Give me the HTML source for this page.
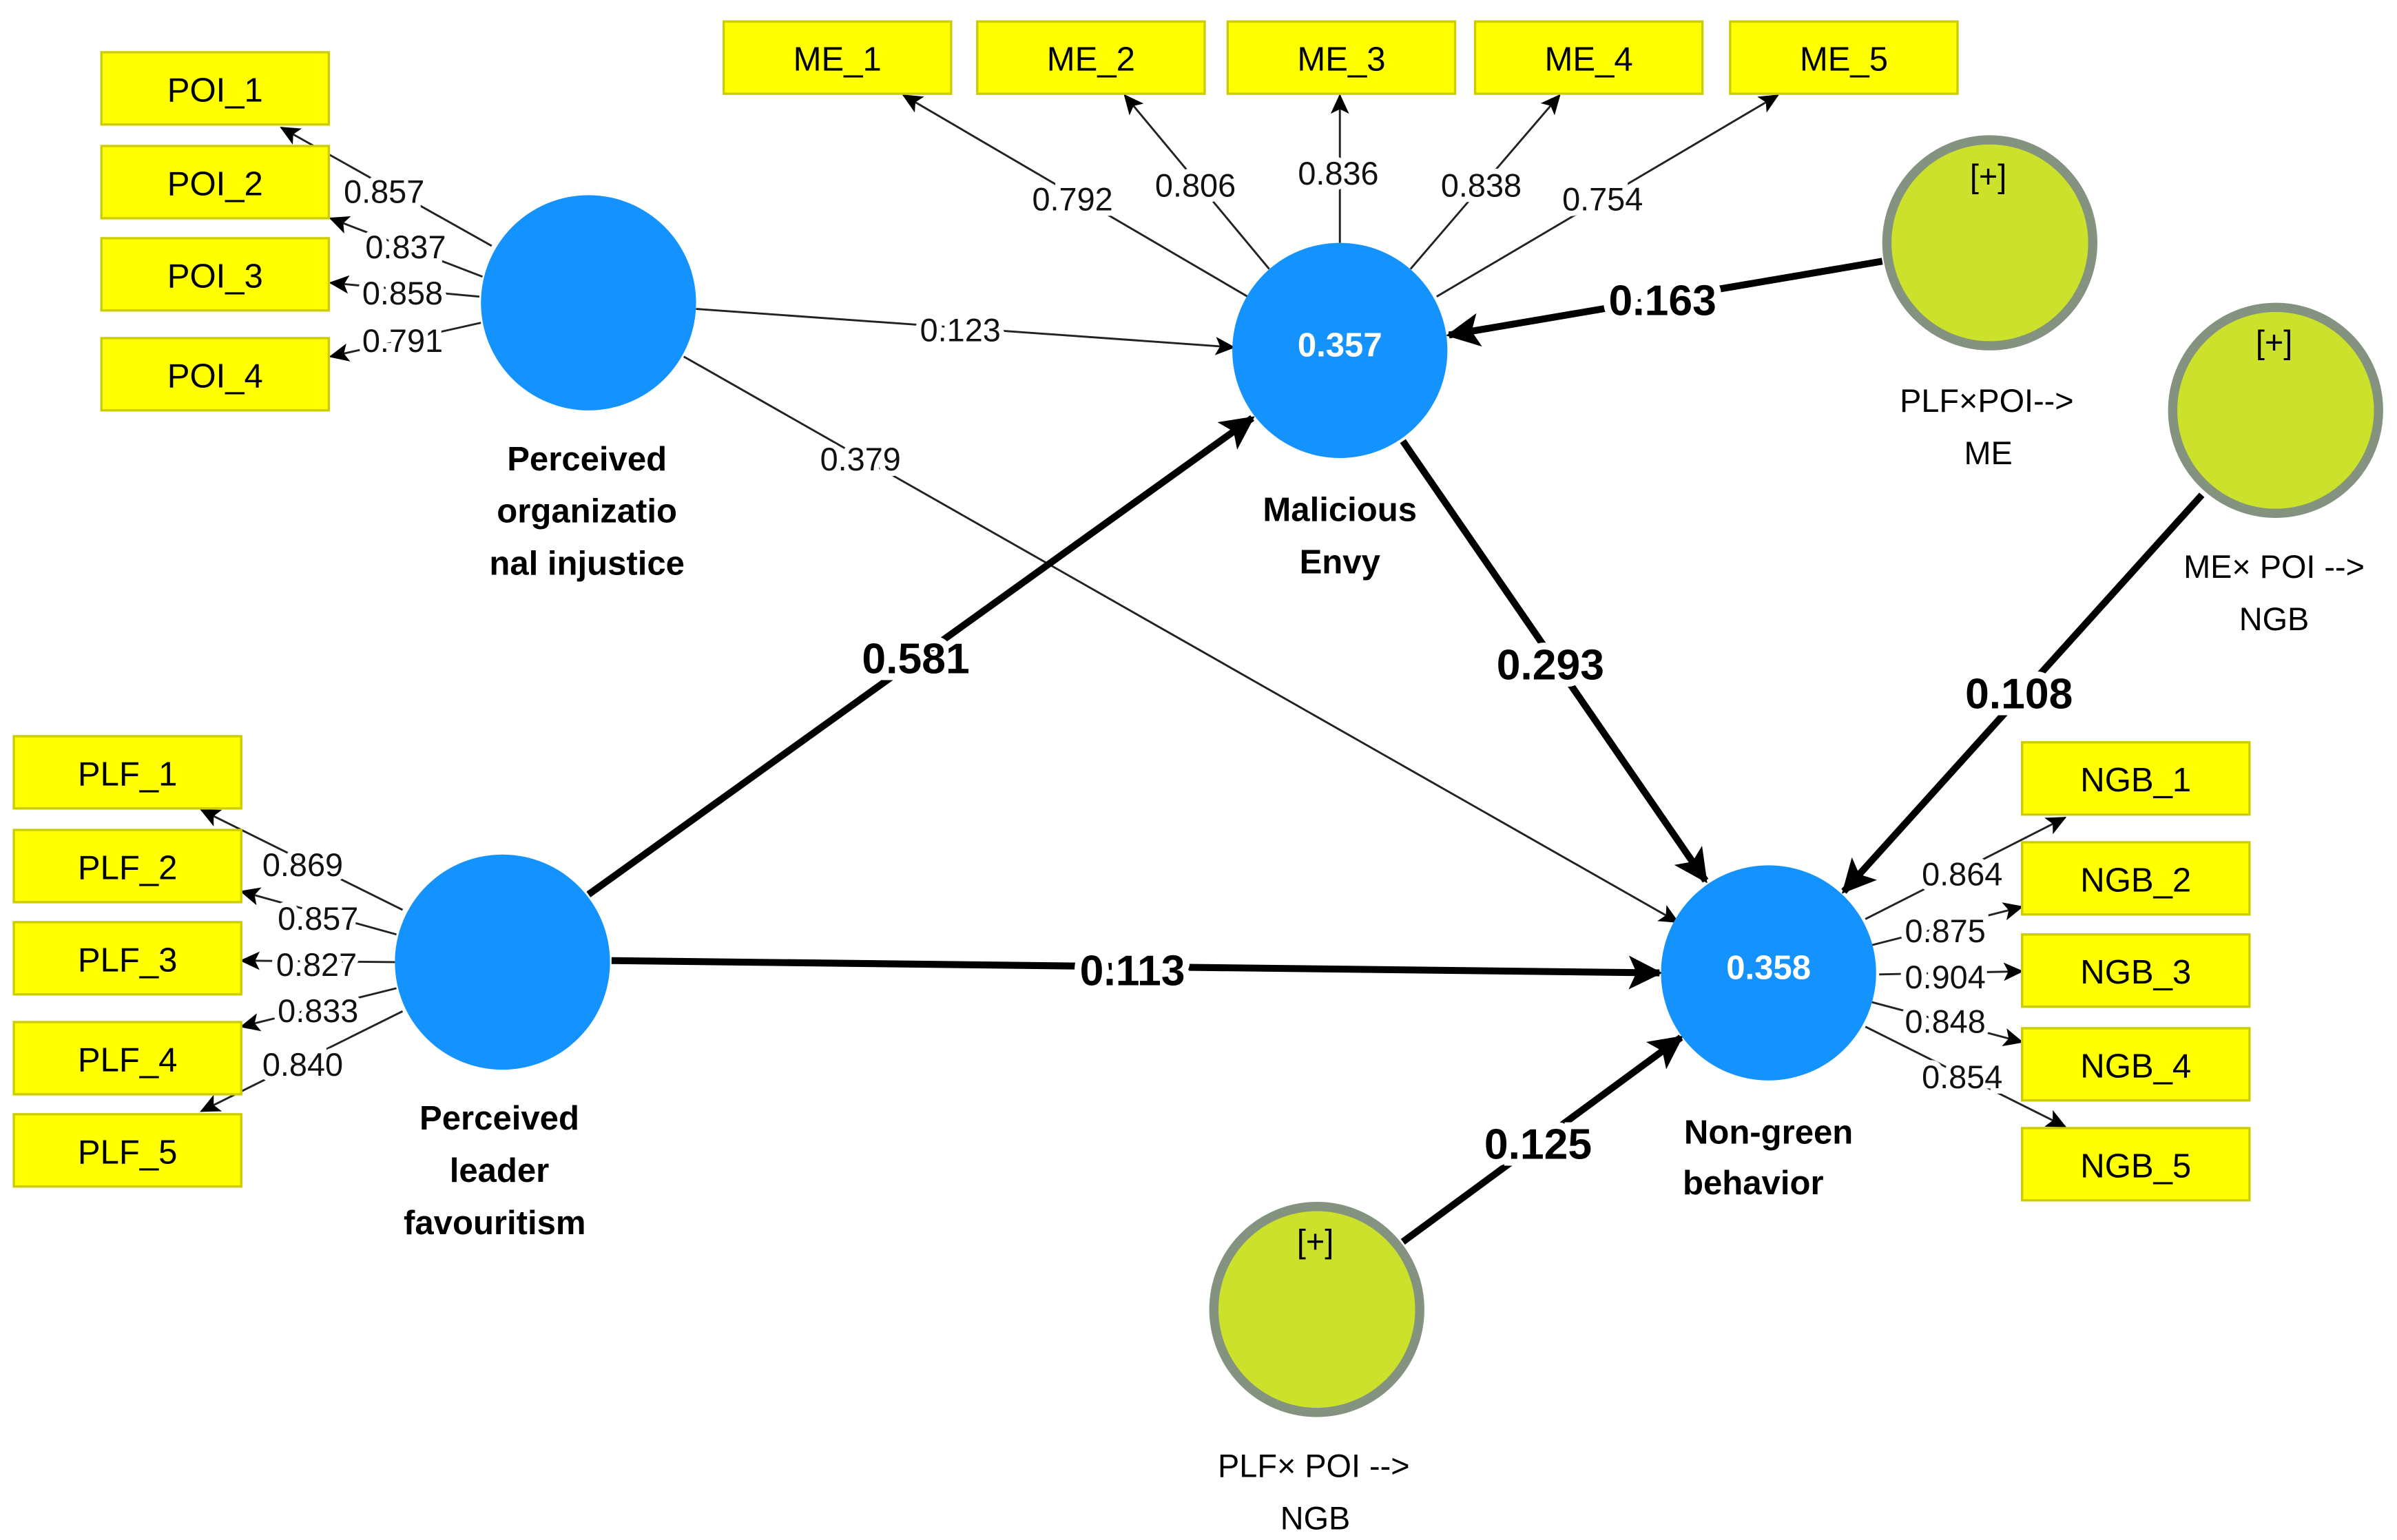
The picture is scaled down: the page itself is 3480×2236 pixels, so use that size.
<!DOCTYPE html>
<html><head><meta charset="utf-8"><style>
html,body{margin:0;padding:0;background:#fff;}
svg{display:block;}
text{font-family:"Liberation Sans",sans-serif;}
.box{fill:#ffff00;stroke:#cccc00;stroke-width:1.5;}
.bl{font-size:22px;fill:#000;text-anchor:middle;}
.ld{font-size:21px;fill:#111;text-anchor:middle;paint-order:stroke;stroke:#fff;stroke-width:7px;}
.pc{font-size:28px;font-weight:bold;fill:#000;text-anchor:middle;paint-order:stroke;stroke:#fff;stroke-width:9px;}
.nl{font-size:22px;font-weight:bold;fill:#000;text-anchor:middle;}
.ml{font-size:21px;fill:#000;text-anchor:middle;}
.thin{stroke:#222;stroke-width:1.3;fill:none;marker-end:url(#a1);}
.bold{stroke:#000;stroke-width:4.5;fill:none;marker-end:url(#a2);}
.g{fill:#cbe12b;stroke:#849280;stroke-width:6;}
.b{fill:#1493ff;}
</style></head><body>
<svg width="3480" height="2236" viewBox="0 0 1560 1002" preserveAspectRatio="none" xmlns="http://www.w3.org/2000/svg">
<defs>
<marker id="a1" markerWidth="14" markerHeight="12" refX="12" refY="6" orient="auto" markerUnits="userSpaceOnUse"><path d="M0,0 L13,6 L0,12 L3,6z" fill="#000"/></marker>
<marker id="a2" markerWidth="24" markerHeight="22" refX="20" refY="11" orient="auto" markerUnits="userSpaceOnUse"><path d="M0,0 L22,11 L0,22 L5,11z" fill="#000"/></marker>
</defs>
<rect width="1560" height="1002" fill="#fff"/>

<!-- thin lines -->
<line class="thin" x1="320" y1="160" x2="183" y2="83"/>
<line class="thin" x1="314" y1="180" x2="215" y2="142"/>
<line class="thin" x1="312" y1="193" x2="215" y2="184"/>
<line class="thin" x1="313" y1="210" x2="215" y2="232"/>
<line class="thin" x1="812" y1="193" x2="588" y2="62"/>
<line class="thin" x1="826" y1="175" x2="732" y2="62"/>
<line class="thin" x1="872" y1="158" x2="872" y2="62"/>
<line class="thin" x1="918" y1="175" x2="1015" y2="62"/>
<line class="thin" x1="935" y1="193" x2="1157" y2="62"/>
<line class="thin" x1="262" y1="592" x2="131" y2="527"/>
<line class="thin" x1="258" y1="608" x2="157" y2="580"/>
<line class="thin" x1="257" y1="626" x2="157" y2="625"/>
<line class="thin" x1="258" y1="643" x2="157" y2="668"/>
<line class="thin" x1="262" y1="658" x2="131" y2="723"/>
<line class="thin" x1="1214" y1="598" x2="1344" y2="532"/>
<line class="thin" x1="1218" y1="615" x2="1316" y2="590"/>
<line class="thin" x1="1223" y1="634" x2="1316" y2="632"/>
<line class="thin" x1="1218" y1="652" x2="1316" y2="678"/>
<line class="thin" x1="1214" y1="668" x2="1344" y2="733"/>
<line class="thin" x1="453" y1="201" x2="803" y2="226"/>
<line class="thin" x1="445" y1="232" x2="1092" y2="600"/>

<!-- bold lines -->
<line class="bold" x1="383" y1="582" x2="815" y2="272"/>
<line class="bold" x1="913" y1="287" x2="1110" y2="573"/>
<line class="bold" x1="398" y1="625" x2="1080" y2="633"/>
<line class="bold" x1="1225" y1="170" x2="943" y2="218"/>
<line class="bold" x1="1433" y1="322" x2="1200" y2="580"/>
<line class="bold" x1="913" y1="808" x2="1094" y2="675"/>

<!-- boxes -->
<rect class="box" x="66" y="34" width="148" height="47"/><text class="bl" x="140" y="66">POI_1</text>
<rect class="box" x="66" y="95" width="148" height="47"/><text class="bl" x="140" y="127">POI_2</text>
<rect class="box" x="66" y="155" width="148" height="47"/><text class="bl" x="140" y="187">POI_3</text>
<rect class="box" x="66" y="220" width="148" height="47"/><text class="bl" x="140" y="252">POI_4</text>
<rect class="box" x="471" y="14" width="148" height="47"/><text class="bl" x="545" y="46">ME_1</text>
<rect class="box" x="636" y="14" width="148" height="47"/><text class="bl" x="710" y="46">ME_2</text>
<rect class="box" x="799" y="14" width="148" height="47"/><text class="bl" x="873" y="46">ME_3</text>
<rect class="box" x="960" y="14" width="148" height="47"/><text class="bl" x="1034" y="46">ME_4</text>
<rect class="box" x="1126" y="14" width="148" height="47"/><text class="bl" x="1200" y="46">ME_5</text>
<rect class="box" x="9" y="479" width="148" height="47"/><text class="bl" x="83" y="511">PLF_1</text>
<rect class="box" x="9" y="540" width="148" height="47"/><text class="bl" x="83" y="572">PLF_2</text>
<rect class="box" x="9" y="600" width="148" height="47"/><text class="bl" x="83" y="632">PLF_3</text>
<rect class="box" x="9" y="665" width="148" height="47"/><text class="bl" x="83" y="697">PLF_4</text>
<rect class="box" x="9" y="725" width="148" height="47"/><text class="bl" x="83" y="757">PLF_5</text>
<rect class="box" x="1316" y="483" width="148" height="47"/><text class="bl" x="1390" y="515">NGB_1</text>
<rect class="box" x="1316" y="548" width="148" height="47"/><text class="bl" x="1390" y="580">NGB_2</text>
<rect class="box" x="1316" y="608" width="148" height="47"/><text class="bl" x="1390" y="640">NGB_3</text>
<rect class="box" x="1316" y="669" width="148" height="47"/><text class="bl" x="1390" y="701">NGB_4</text>
<rect class="box" x="1316" y="734" width="148" height="47"/><text class="bl" x="1390" y="766">NGB_5</text>

<!-- loading labels -->
<text class="ld" x="250" y="132">0.857</text>
<text class="ld" x="264" y="168">0.837</text>
<text class="ld" x="262" y="198">0.858</text>
<text class="ld" x="262" y="229">0.791</text>
<text class="ld" x="698" y="137">0.792</text>
<text class="ld" x="778" y="128">0.806</text>
<text class="ld" x="871" y="120">0.836</text>
<text class="ld" x="964" y="128">0.838</text>
<text class="ld" x="1043" y="137">0.754</text>
<text class="ld" x="197" y="570">0.869</text>
<text class="ld" x="207" y="605">0.857</text>
<text class="ld" x="206" y="635">0.827</text>
<text class="ld" x="207" y="665">0.833</text>
<text class="ld" x="197" y="700">0.840</text>
<text class="ld" x="1277" y="576">0.864</text>
<text class="ld" x="1266" y="613">0.875</text>
<text class="ld" x="1266" y="643">0.904</text>
<text class="ld" x="1266" y="672">0.848</text>
<text class="ld" x="1277" y="708">0.854</text>
<text class="ld" x="625" y="222">0.123</text>
<text class="ld" x="560" y="306">0.379</text>

<!-- path coefficients -->
<text class="pc" x="596" y="438">0.581</text>
<text class="pc" x="1009" y="442">0.293</text>
<text class="pc" x="737" y="641">0.113</text>
<text class="pc" x="1082" y="205">0.163</text>
<text class="pc" x="1314" y="461">0.108</text>
<text class="pc" x="1001" y="754">0.125</text>

<!-- latent circles -->
<circle class="b" cx="383" cy="197" r="70"/>
<circle class="b" cx="872" cy="228" r="70"/>
<text x="872" y="232" font-size="22" font-weight="bold" fill="#fff" text-anchor="middle">0.357</text>
<circle class="b" cx="327" cy="626" r="70"/>
<circle class="b" cx="1151" cy="633" r="70"/>
<text x="1151" y="637" font-size="22" font-weight="bold" fill="#fff" text-anchor="middle">0.358</text>

<circle class="g" cx="1295" cy="158" r="67"/>
<text class="ml" x="1294" y="122">[+]</text>
<circle class="g" cx="1481" cy="267" r="67"/>
<text class="ml" x="1480" y="230">[+]</text>
<circle class="g" cx="857" cy="852" r="67"/>
<text class="ml" x="856" y="815">[+]</text>

<!-- node labels -->
<text class="nl" x="382" y="306">Perceived</text>
<text class="nl" x="382" y="340">organizatio</text>
<text class="nl" x="382" y="374">nal injustice</text>
<text class="nl" x="872" y="339">Malicious</text>
<text class="nl" x="872" y="373">Envy</text>
<text class="nl" x="325" y="735">Perceived</text>
<text class="nl" x="325" y="769">leader</text>
<text class="nl" x="322" y="803">favouritism</text>
<text class="nl" x="1151" y="744">Non-green</text>
<text class="nl" x="1141" y="777">behavior</text>
<text class="ml" x="1293" y="268">PLF×POI--&gt;</text>
<text class="ml" x="1294" y="302">ME</text>
<text class="ml" x="1480" y="376">ME× POI --&gt;</text>
<text class="ml" x="1480" y="410">NGB</text>
<text class="ml" x="855" y="961">PLF× POI --&gt;</text>
<text class="ml" x="856" y="995">NGB</text>
</svg>
</body></html>
